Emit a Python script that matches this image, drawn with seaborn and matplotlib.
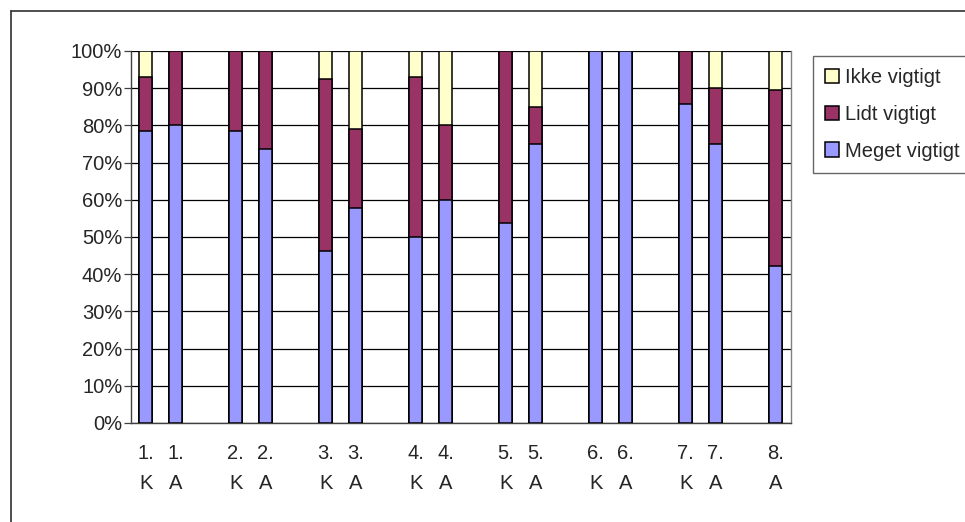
import matplotlib
matplotlib.use("Agg")
import matplotlib.pyplot as plt
from matplotlib.patches import Patch
from matplotlib.lines import Line2D
import seaborn as sns
import pandas as pd

# Survey answers per question (1-8) and respondent group (K / A), in percent
questions = ["1", "1", "2", "2", "3", "3", "4", "4", "5", "5", "6", "6", "7", "7", "8"]
groups = ["K", "A", "K", "A", "K", "A", "K", "A", "K", "A", "K", "A", "K", "A", "A"]
meget = [78.6, 80.0, 78.6, 73.7, 46.2, 57.9, 50.0, 60.0, 53.8, 75.0, 100.0, 100.0, 85.7, 75.0, 42.1]
lidt = [14.3, 20.0, 21.4, 26.3, 46.2, 21.1, 42.9, 20.0, 46.2, 10.0, 0.0, 0.0, 14.3, 15.0, 47.4]
ikke = [7.1, 0.0, 0.0, 0.0, 7.6, 21.0, 7.1, 20.0, 0.0, 15.0, 0.0, 0.0, 0.0, 10.0, 10.5]
series_names = ["Ikke vigtigt", "Lidt vigtigt", "Meget vigtigt"]
y_ticks = [0, 10, 20, 30, 40, 50, 60, 70, 80, 90, 100]

colors = {"Meget vigtigt": "#9999FF", "Lidt vigtigt": "#993366", "Ikke vigtigt": "#FFFFCC"}

sns.set_style("white")
plt.rcParams["font.family"] = ["Liberation Sans", "DejaVu Sans"]
plt.rcParams["font.size"] = 14.5

df = pd.DataFrame({
    "label": [f"{q}.\n{g}" for q, g in zip(questions, groups)],
    "meget": meget,
    "lidt": lidt,
    "ikke": ikke,
})
df["cum_lidt"] = df["meget"] + df["lidt"]
df["cum_ikke"] = df["cum_lidt"] + df["ikke"]

# Category order with an empty slot between questions
order = []
spacer = 0
prev_q = None
for q, lab in zip(questions, df["label"]):
    if prev_q is not None and q != prev_q:
        spacer += 1
        order.append(" " * spacer)
    order.append(lab)
    prev_q = q

fig = plt.figure(figsize=(9.65, 5.22), dpi=100)
ax = fig.add_axes([130.7 / 965, 1 - 423 / 522, 660 / 965, 372 / 522])

bar_kw = dict(order=order, width=0.43, edgecolor="black", linewidth=1.1,
              saturation=1, ax=ax, errorbar=None, zorder=3)
sns.barplot(data=df, x="label", y="cum_ikke", color=colors["Ikke vigtigt"], **bar_kw)
sns.barplot(data=df, x="label", y="cum_lidt", color=colors["Lidt vigtigt"], **bar_kw)
sns.barplot(data=df, x="label", y="meget", color=colors["Meget vigtigt"], **bar_kw)

n = len(order)
ax.set_xlim(-0.5, n - 0.5)
ax.set_ylim(0, 100)
ax.set_yticks(y_ticks)
ax.set_yticklabels([f"{v}%" for v in y_ticks])
ax.set_xlabel("")
ax.set_ylabel("")
ax.yaxis.grid(True, color="black", linewidth=0.9, zorder=0)
ax.set_axisbelow(True)

# Category boundaries carry the x tick marks; labels sit under the bars
ax.set_xticks([i + 0.5 for i in range(-1, n)], minor=True)
ax.tick_params(axis="x", which="major", length=0, pad=15)
ax.tick_params(axis="x", which="minor", length=5, width=0.9, color="#404040", direction="out")
ax.tick_params(axis="y", which="major", length=5, width=0.9, color="#404040",
               direction="out", pad=1, left=True)
for lab in ax.get_xticklabels():
    lab.set_linespacing(1.75)

for side in ["left", "bottom"]:
    ax.spines[side].set_color("#404040")
    ax.spines[side].set_linewidth(1.0)
ax.spines["right"].set_color("#808080")
ax.spines["right"].set_linewidth(1.0)
ax.spines["top"].set_visible(False)

handles = [Patch(facecolor=colors[s], edgecolor="black", linewidth=1.1, label=s) for s in series_names]
leg = fig.legend(handles=handles, loc="upper left", bbox_to_anchor=(813 / 965, 1 - 56 / 522),
                 borderaxespad=0, frameon=True, fancybox=False, borderpad=0.6, labelspacing=0.88,
                 handlelength=0.7, handleheight=0.7, handletextpad=0.3, fontsize=14.5)
leg.get_frame().set_edgecolor("#404040")
leg.get_frame().set_linewidth(1.0)

# Outer chart frame (left and top edges)
fig.add_artist(Line2D([10.5 / 965, 10.5 / 965], [0, 1 - 11 / 522], color="#303030", lw=1.2,
                      transform=fig.transFigure))
fig.add_artist(Line2D([10.5 / 965, 1], [1 - 11 / 522, 1 - 11 / 522], color="#303030", lw=1.2,
                      transform=fig.transFigure))

fig.savefig("out.png", dpi=100)
